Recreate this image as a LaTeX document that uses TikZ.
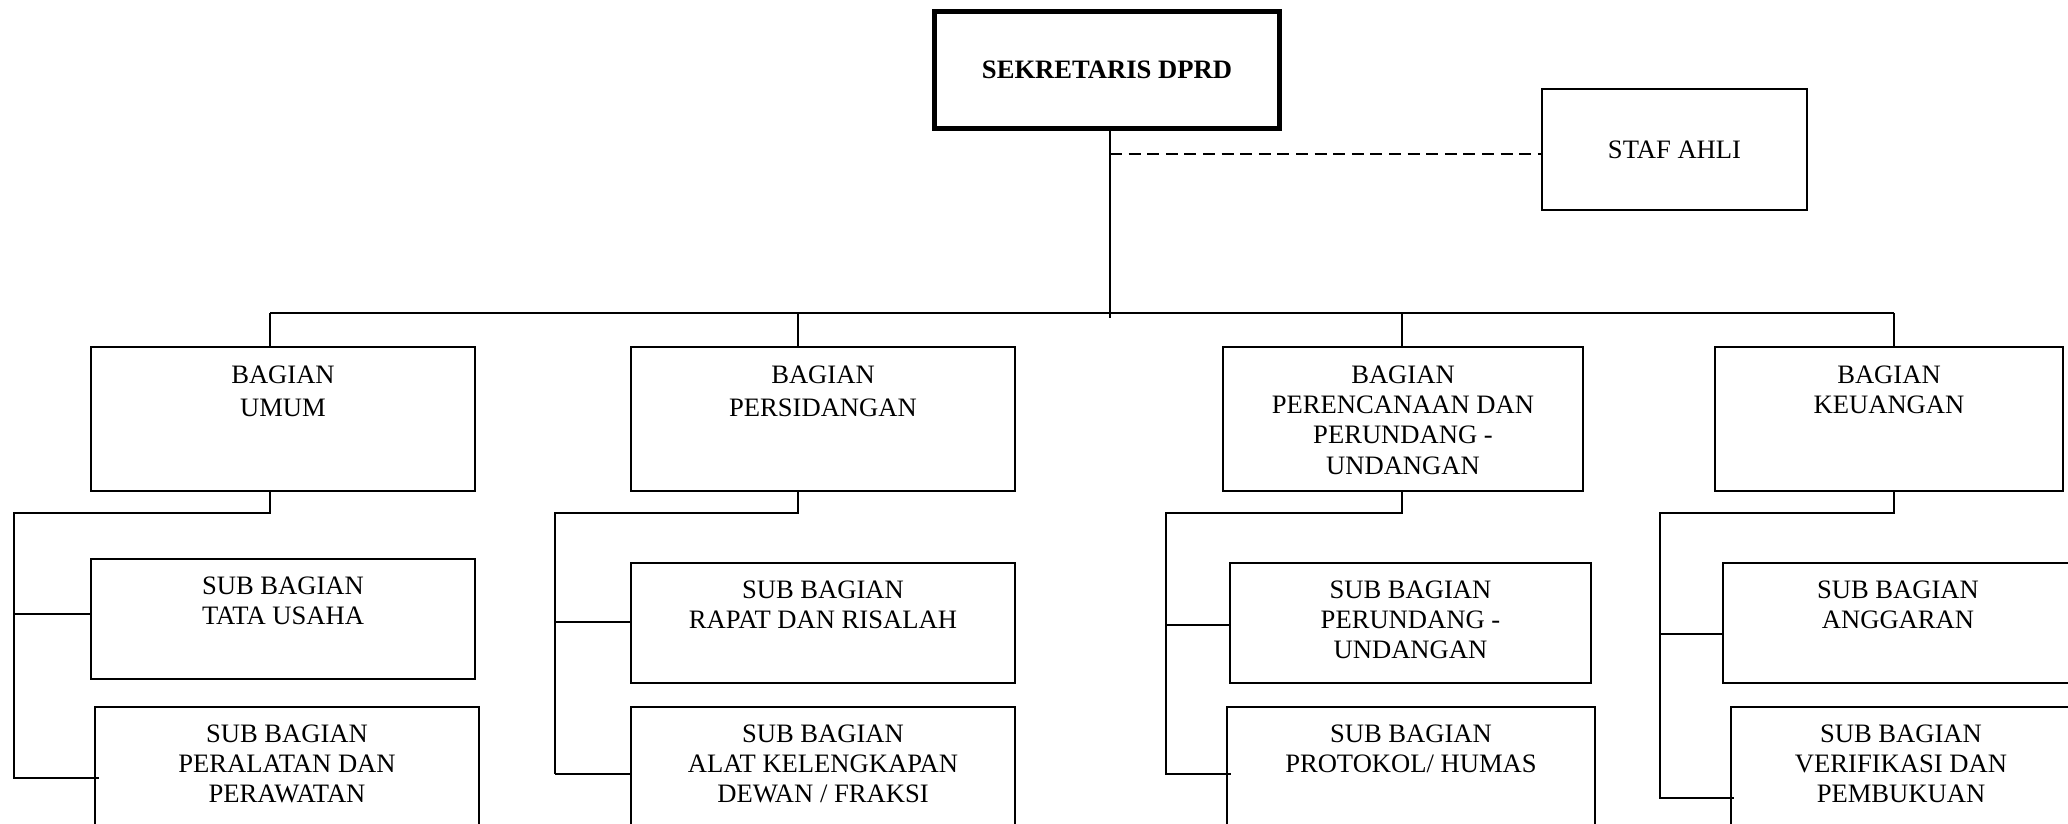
\documentclass[tikz,border=0pt]{standalone}
\usepackage{fontspec}
\setmainfont{Liberation Serif}
\newdimen\px \px=0.5pt
% width, height, first-baseline offset, text
\newcommand{\bt}[4]{\parbox[c][#2\px][t]{#1\px}{\centering\rule{0pt}{#3\px}#4}}
\begin{document}
\begin{tikzpicture}[x=0.5pt,y=-0.5pt, line join=miter,
  every node/.style={inner sep=0pt, font=\fontsize{13.3}{15.2}\selectfont},
  bx/.style={draw, line width=1pt, anchor=north west},
  ln/.style={line width=1pt},
  dsh/.style={line width=0.8pt, dash pattern=on 6pt off 3.3pt}]
\useasboundingbox (0,0) rectangle (2068,824);
\clip (0,0) rectangle (2068,824);

% top level
\node[draw, line width=2.5pt, minimum width=345\px, minimum height=117\px] (sek) at (1107,70) {\bfseries SEKRETARIS DPRD};
\node[draw, line width=1pt, minimum width=265\px, minimum height=121\px] (staf) at (1674.5,149.5) {STAF AHLI};

% bagian
\node[bx] (umum) at (90,346) {\bt{384}{144}{36}{BAGIAN\\[1.5pt]UMUM}};
\node[bx] (persid) at (630,346) {\bt{384}{144}{36}{BAGIAN\\[1.5pt]PERSIDANGAN}};
\node[bx] (peren) at (1222,346) {\bt{360}{144}{36}{BAGIAN\\PERENCANAAN DAN\\PERUNDANG -\\UNDANGAN}};
\node[bx] (keu) at (1714,346) {\bt{348}{144}{36}{BAGIAN\\KEUANGAN}};

% sub bagian
\node[bx] (tata) at (90,558) {\bt{384}{120}{35}{SUB BAGIAN\\TATA USAHA}};
\node[bx] (peral) at (94,706) {\bt{384}{160}{35}{SUB BAGIAN\\PERALATAN DAN\\PERAWATAN}};
\node[bx] (rapat) at (630,562) {\bt{384}{120}{35}{SUB BAGIAN\\RAPAT DAN RISALAH}};
\node[bx] (alat) at (630,706) {\bt{384}{160}{35}{SUB BAGIAN\\ALAT KELENGKAPAN\\DEWAN / FRAKSI}};
\node[bx] (perund) at (1229,562) {\bt{361}{120}{35}{SUB BAGIAN\\PERUNDANG -\\UNDANGAN}};
\node[bx] (proto) at (1226,706) {\bt{368}{160}{35}{SUB BAGIAN\\PROTOKOL/ HUMAS}};
\node[bx] (angg) at (1722,562) {\bt{350}{120}{35}{SUB BAGIAN\\ANGGARAN}};
\node[bx] (verif) at (1730,706) {\bt{340}{160}{35}{SUB BAGIAN\\VERIFIKASI DAN\\PEMBUKUAN}};

% main trunk and bus
\coordinate (top) at (1110,318);
\draw[ln] (sek.south -| top) -- (top);
\coordinate (dj) at (1110,154);
\draw[dsh] (dj) -- (dj -| staf.west);
\coordinate (d1) at (270,313);
\coordinate (d2) at (798,313);
\coordinate (d3) at (1402,313);
\coordinate (d4) at (1894,313);
\draw[ln] (d1) -- (d4);
\draw[ln] (d1) -- (d1 |- umum.north);
\draw[ln] (d2) -- (d2 |- persid.north);
\draw[ln] (d3) -- (d3 |- peren.north);
\draw[ln] (d4) -- (d4 |- keu.north);

% column 1
\coordinate (v1) at (14,513);
\coordinate (e1) at (14,778);
\coordinate (c1) at (14,614);
\coordinate (o1) at (99,778);
\draw[ln] (d1 |- umum.south) -- (d1 |- v1) -- (v1) -- (e1) -- (o1);
\draw[ln] (c1) -- (c1 -| tata.west);

% column 2
\coordinate (v2) at (555,513);
\coordinate (e2) at (555,774);
\coordinate (c2) at (555,622);
\draw[ln] (d2 |- persid.south) -- (d2 |- v2) -- (v2) -- (e2);
\draw[ln] (c2) -- (c2 -| rapat.west);
\draw[ln] (555,774) coordinate (f2) -- (f2 -| alat.west);

% column 3
\coordinate (v3) at (1166,513);
\coordinate (e3) at (1166,774);
\coordinate (c3) at (1166,625);
\coordinate (o3) at (1231,774);
\draw[ln] (d3 |- peren.south) -- (d3 |- v3) -- (v3) -- (e3) -- (o3);
\draw[ln] (c3) -- (c3 -| perund.west);

% column 4
\coordinate (v4) at (1660,513);
\coordinate (e4) at (1660,798);
\coordinate (c4) at (1660,634);
\coordinate (o4) at (1734,798);
\draw[ln] (d4 |- keu.south) -- (d4 |- v4) -- (v4) -- (e4) -- (o4);
\draw[ln] (c4) -- (c4 -| angg.west);
\end{tikzpicture}
\end{document}
